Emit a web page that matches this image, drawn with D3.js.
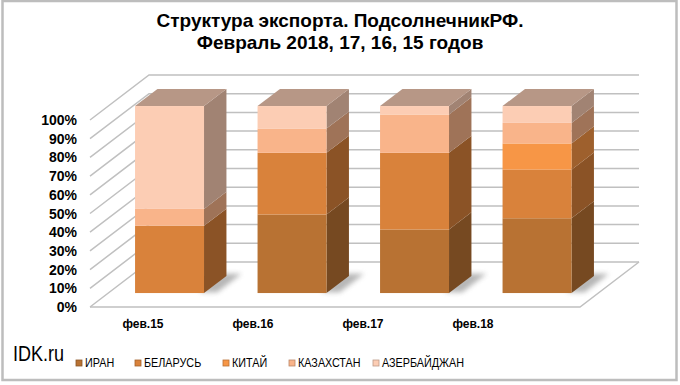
<!DOCTYPE html>
<html>
<head>
<meta charset="utf-8">
<script src="https://cdn.jsdelivr.net/npm/d3@7"></script>
<style>
  html, body { margin: 0; padding: 0; background: #fff; }
  svg { display: block; }
</style>
</head>
<body>
<svg id="chart" width="680" height="385"></svg>
<script>
// ---- data ----
const categories = ["фев.15", "фев.16", "фев.17", "фев.18"];
const seriesNames = ["ИРАН", "БЕЛАРУСЬ", "КИТАЙ", "КАЗАХСТАН", "АЗЕРБАЙДЖАН"];
const iran        = [0, 42, 34, 40];
const belarus     = [36, 33, 41, 26];
const china       = [0, 0, 0, 14];
const kazakhstan  = [9, 13, 20.5, 11];
const azerbaijan  = [55, 12, 4.5, 9];
const yTickValues = [0, 0.1, 0.2, 0.3, 0.4, 0.5, 0.6, 0.7, 0.8, 0.9, 1];
const titleLines  = ["Структура экспорта. ПодсолнечникРФ.", "Февраль 2018, 17, 16, 15 годов"];
const watermark   = "IDK.ru";

// ---- styles ----
const colors = ["#b87233", "#d9823b", "#f79646", "#f9b48a", "#fccdb4"];

const svg = d3.select("#chart");

const seriesValues = [iran, belarus, china, kazakhstan, azerbaijan];
const table = categories.map((c, i) => {
  const row = { cat: c };
  seriesNames.forEach((s, k) => row[s] = seriesValues[k][i]);
  return row;
});
const stack = d3.stack().keys(seriesNames).offset(d3.stackOffsetExpand);
const stacked = stack(table);

// ---- 3D geometry ----
const DX = 59, DY = 45;          // depth vector (front -> back wall)
const T0 = 0.31, T1 = 0.69;      // bar depth range
const x = d3.scaleBand().domain(categories).range([90, 580]).paddingInner(0.437).paddingOuter(0.2185);
const y = d3.scaleLinear().domain([0, 1]).range([307, 120]);
const xLabel = d3.scaleBand().domain(categories).range([88, 528]);
const P = (xf, v, t) => [xf + t * DX, y(v) - t * DY];
const poly = pts => pts.map(p => p.join(",")).join(" ");

// border
svg.append("rect").attr("x", 2.5).attr("y", 1).attr("width", 674).attr("height", 379)
  .attr("fill", "#fff").attr("stroke", "#bdbdbd").attr("stroke-width", 2.5);

const defs = svg.append("defs");
defs.append("filter").attr("id", "blur").attr("x", "-50%").attr("y", "-50%").attr("width", "200%").attr("height", "200%")
  .append("feGaussianBlur").attr("stdDeviation", 2.5);

// ---- walls / gridlines ----
const xl = x.range()[0], xr = x.range()[1];
const grid = svg.append("g").attr("stroke", "#c0c0c0").attr("stroke-width", 1.5).attr("fill", "none");
yTickValues.forEach(v => {
  const a = P(xl, v, 0), b = P(xl, v, 1), c = P(xr, v, 1);
  grid.append("polyline").attr("points", poly([a, b, c]));
});
// floor edges
grid.append("polyline").attr("points", poly([P(xl, 0, 0), P(xr, 0, 0), P(xr, 0, 1)]));

// ---- y labels ----
svg.append("g").selectAll("text").data(yTickValues).join("text")
  .attr("x", 77).attr("y", d => y(d) + 5)
  .attr("text-anchor", "end")
  .attr("font-family", "Liberation Sans, Arial, sans-serif")
  .attr("font-weight", "bold").attr("font-size", 14).attr("fill", "#000")
  .text(d => d3.format(".0%")(d));

// ---- bars ----
const barsG = svg.append("g");
categories.forEach((cat, i) => {
  const x0 = x(cat), x1 = x(cat) + x.bandwidth();
  const g = barsG.append("g");
  // shadow on floor
  g.append("polygon")
    .attr("points", poly([P(x1 - 6, 0, T0 + 0.02), P(x1 + 12, 0, T0 + 0.02), P(x1 + 12, 0, T1 + 0.05), P(x1 - 6, 0, T1 + 0.05)]))
    .attr("fill", "#7a7a7a").attr("opacity", 0.55).attr("filter", "url(#blur)");
  let topSeg = null;
  stacked.forEach((s, k) => {
    const d = s[i];
    const v0 = d[0], v1 = d[1];
    if (v1 - v0 <= 0) return;
    const c = d3.color(colors[k]);
    // right side face
    g.append("polygon")
      .attr("points", poly([P(x1, v0, T0), P(x1, v0, T1), P(x1, v1, T1), P(x1, v1, T0)]))
      .attr("fill", c.darker(1.25).formatHex());
    // front face
    const fp = P(x0, v1, T0), fb = P(x1, v0, T0);
    g.append("rect").attr("x", fp[0]).attr("y", fp[1]).attr("width", fb[0] - fp[0]).attr("height", fb[1] - fp[1])
      .attr("fill", colors[k]);
    topSeg = k;
  });
  // top face
  if (topSeg !== null) {
    const c = d3.color(colors[topSeg]);
    const topCol = d3.interpolateRgb(c.darker(0.9), "#b89a8a")(0.4);
    g.append("polygon")
      .attr("points", poly([P(x0, 1, T0), P(x1, 1, T0), P(x1, 1, T1), P(x0, 1, T1)]))
      .attr("fill", topCol);
  }
});

// ---- category labels ----
svg.append("g").selectAll("text").data(categories).join("text")
  .attr("x", d => xLabel(d) + xLabel.bandwidth() / 2).attr("y", 328)
  .attr("text-anchor", "middle")
  .attr("font-family", "Liberation Sans, Arial, sans-serif")
  .attr("font-weight", "bold").attr("font-size", 12).attr("fill", "#000")
  .text(d => d);

// ---- title ----
svg.append("g").selectAll("text").data(titleLines).join("text")
  .attr("x", 340).attr("y", (d, i) => 27 + i * 22)
  .attr("text-anchor", "middle")
  .attr("font-family", "Liberation Sans, Arial, sans-serif")
  .attr("font-weight", "bold").attr("font-size", 19).attr("fill", "#000")
  .text(d => d);

// ---- watermark ----
svg.append("text").attr("transform", "translate(13,361) scale(0.82,1)")
  .attr("font-family", "Liberation Sans, Arial, sans-serif")
  .attr("font-size", 22).attr("fill", "#000").text(watermark);

// ---- legend ----
const legendX = [76, 135, 223, 289, 373];
const lg = svg.append("g");
seriesNames.forEach((s, k) => {
  const c = d3.color(colors[k]);
  lg.append("rect").attr("x", legendX[k]).attr("y", 360).attr("width", 6).attr("height", 6)
    .attr("fill", colors[k]).attr("stroke", c.darker(0.8).formatHex()).attr("stroke-width", 0.8);
  lg.append("text").attr("transform", `translate(${legendX[k] + 9},367) scale(0.9,1)`)
    .attr("font-family", "Liberation Sans, Arial, sans-serif")
    .attr("font-size", 12).attr("fill", "#000").text(s);
});
</script>
</body>
</html>
